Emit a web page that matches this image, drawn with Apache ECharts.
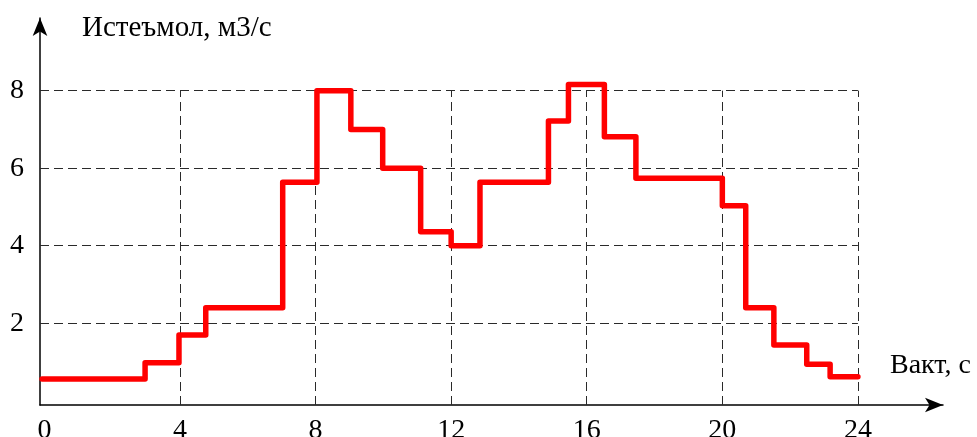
<!DOCTYPE html>
<html>
<head>
<meta charset="utf-8">
<script src="https://cdn.jsdelivr.net/npm/echarts@6/dist/echarts.min.js"></script>
<style>
    html, body { margin: 0; padding: 0; background: #fff; }
    #chart { width: 977px; height: 437px; }
</style>
</head>
<body>
<div id="chart"></div>
<script>
// 数据: 每段开始的时间 (ч) 和 流量
var hours = [-0.07, 2.97, 3.97, 4.76, 7.03, 8.04, 9.04, 9.98, 11.1, 12.0, 12.85, 14.87, 15.46, 16.52, 17.45, 20.0, 20.69, 21.52, 22.49, 23.18, 24];
var flow = [0.56, 0.98, 1.7, 2.4, 5.64, 8, 7, 6, 4.36, 4, 5.64, 7.22, 8.16, 6.81, 5.74, 5.03, 2.4, 1.44, 0.94, 0.62, 0.62];
var xTicks = [0, 4, 8, 12, 16, 20, 24];
var yTicks = [2, 4, 6, 8];

var xMin = -0.13, xMax = 26.51;
var yMin = -0.108, yMax = 9.874;
var font = 'Liberation Serif';

var pts = [];
for (var i = 0; i < hours.length; i++) {
    pts.push([hours[i], flow[i]]);
}

// 网格虚线
var gridLines = [];
for (var i = 0; i < xTicks.length; i++) {
    if (xTicks[i] == 0) continue;
    gridLines.push([{ coord: [xTicks[i], yMin] }, { coord: [xTicks[i], 8] }]);
}
for (var j = 0; j < yTicks.length; j++) {
    gridLines.push([{ coord: [xMin, yTicks[j]] }, { coord: [24, yTicks[j]] }]);
}

var myChart = echarts.init(document.getElementById('chart'));
var option = {
    animation: false,
    title: [{
        text: 'Истеъмол, м3/с',
        left: 77, top: 9,
        textStyle: { fontFamily: font, fontSize: 29, fontWeight: 'normal', color: '#000' }
    }, {
        text: 'Вакт, с',
        left: 885, top: 347,
        textStyle: { fontFamily: font, fontSize: 28, fontWeight: 'normal', color: '#000' }
    }],
    grid: { left: 40, right: 34, top: 18, bottom: 32, outerBoundsMode: 'none', containLabel: false },
    xAxis: {
        type: 'value', min: xMin, max: xMax,
        axisLine: { onZero: false, lineStyle: { color: '#000', width: 1.5 }, symbol: ['none', 'arrow'], symbolSize: [11, 18] },
        axisTick: { show: false },
        splitLine: { show: false },
        axisLabel: { customValues: xTicks, color: '#000', fontFamily: font, fontSize: 28, margin: 12 }
    },
    yAxis: {
        type: 'value', min: yMin, max: yMax,
        axisLine: { onZero: false, lineStyle: { color: '#000', width: 1.5 }, symbol: ['none', 'arrow'], symbolSize: [11, 18] },
        axisTick: { show: false },
        splitLine: { show: false },
        axisLabel: { customValues: yTicks, color: '#000', fontFamily: font, fontSize: 28, margin: 16 }
    },
    series: [{
        type: 'line',
        step: 'end',
        data: pts,
        showSymbol: false,
        lineStyle: { color: '#ff0000', width: 5.5, cap: 'round', join: 'round' },
        z: 5,
        markLine: {
            silent: true,
            symbol: 'none',
            label: { show: false },
            lineStyle: { color: '#2a2a2a', width: 1, type: [9, 5] },
            data: gridLines,
            z: 1
        }
    }]
};
myChart.setOption(option);
</script>
</body>
</html>
